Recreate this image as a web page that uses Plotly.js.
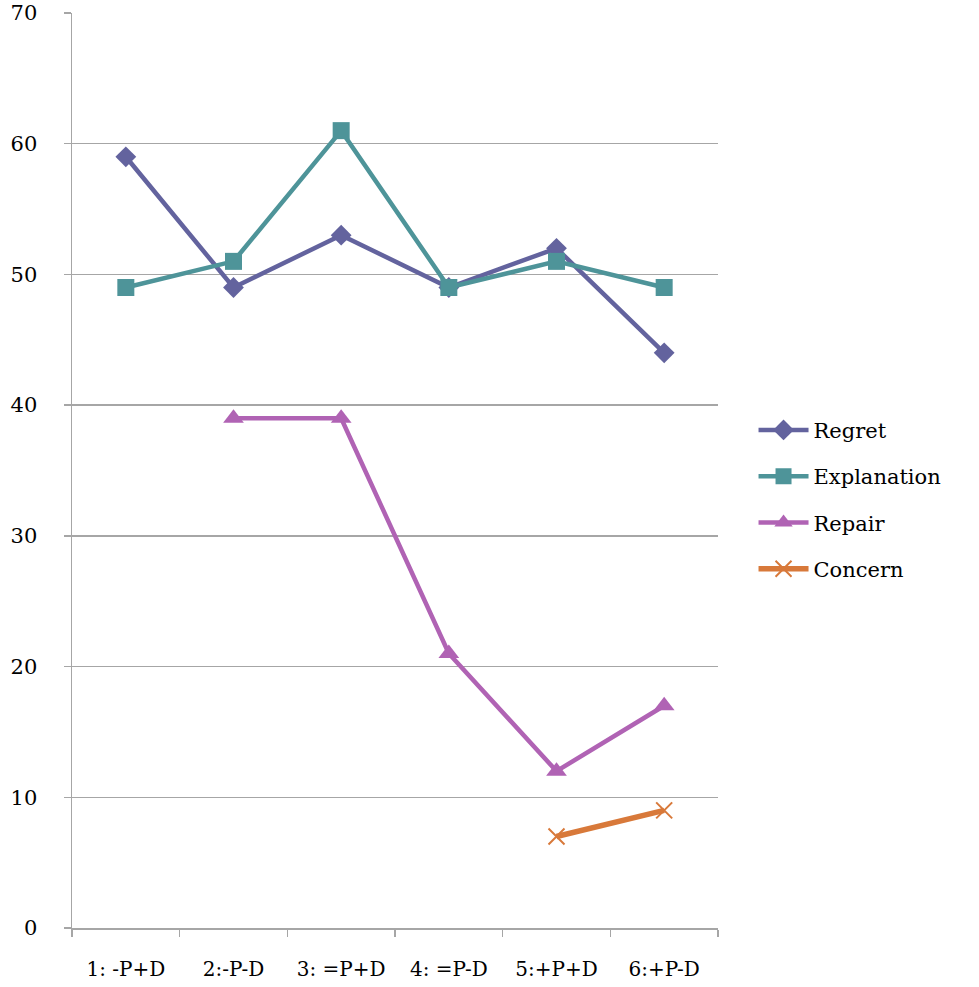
<!DOCTYPE html>
<html>
<head>
<meta charset="utf-8">
<script src="https://cdn.plot.ly/plotly-3.0.1.min.js"></script>
<style>html,body{margin:0;padding:0;background:#fff;}</style>
</head>
<body>
<div id="chart" style="width:979px;height:987px;"></div>
<script>
const categories = ["1: -P+D", "2:-P-D", "3: =P+D", "4: =P-D", "5:+P+D", "6:+P-D"];
const regret = [59, 49, 53, 49, 52, 44];
const explanation = [49, 51, 61, 49, 51, 49];
const repair = [null, 39, 39, 21, 12, 17];
const concern = [null, null, null, null, 7, 9];
const yTicks = [0, 10, 20, 30, 40, 50, 60, 70];

const font = "Georgia, 'DejaVu Serif', serif";

const traces = [
  {x: categories, y: regret, name: "Regret", legendgroup: "a", mode: "lines+markers",
   line: {color: "#63639e", width: 4.5}, marker: {symbol: "diamond", size: 16, color: "#63639e"}},
  {x: categories, y: explanation, name: "Explanation", legendgroup: "b", mode: "lines+markers",
   line: {color: "#4e9499", width: 4.5}, marker: {symbol: "square", size: 17, color: "#4e9499"}},
  {x: categories, y: repair, name: "Repair", legendgroup: "c", mode: "lines+markers",
   line: {color: "#b063b4", width: 4.5}, marker: {symbol: "triangle-up", size: 18, color: "#b063b4"}},
  {x: categories, y: concern, name: "Concern", legendgroup: "d", mode: "lines+markers",
   line: {color: "#d8793a", width: 5.5}, marker: {symbol: "x-thin-open", size: 16, line: {color: "#d8793a", width: 2}, color: "#d8793a"}}
];

const layout = {
  width: 979, height: 987,
  margin: {l: 72, r: 261, t: 13, b: 59},
  paper_bgcolor: "#fff", plot_bgcolor: "#fff",
  font: {family: font, size: 20, color: "#000"},
  showlegend: true,
  legend: {x: 1.055, y: 0.468, xanchor: "left", yanchor: "middle", font: {family: font, size: 21}, tracegroupgap: 16, itemwidth: 50},
  xaxis: {
    type: "category", range: [-0.5, 5.5], tickson: "boundaries",
    showgrid: false, showline: true, linecolor: "#a6a6a6", linewidth: 1.5,
    ticks: "outside", ticklen: 7, tickcolor: "#a6a6a6", tickwidth: 1.5,
    ticklabelstandoff: 22, tickfont: {family: font, size: 20}, zeroline: false, fixedrange: true
  },
  yaxis: {
    range: [0, 70], tickvals: yTicks, showgrid: true, gridcolor: "#a6a6a6", gridwidth: 1.5,
    showline: true, linecolor: "#a6a6a6", linewidth: 1.5,
    ticks: "outside", ticklen: 7, tickcolor: "#a6a6a6", tickwidth: 1.5,
    ticklabelstandoff: 22, tickfont: {family: font, size: 21}, zeroline: false, fixedrange: true
  }
};

Plotly.newPlot("chart", traces, layout, {displayModeBar: false, staticPlot: true});
</script>
</body>
</html>
